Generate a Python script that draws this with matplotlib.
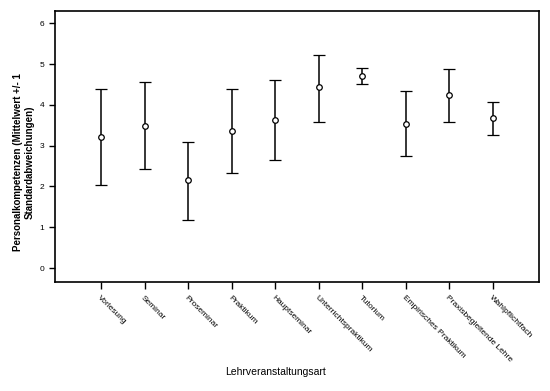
import numpy as np
import matplotlib
matplotlib.use("Agg")
import matplotlib.pyplot as plt

plt.rcParams["font.family"] = ["Liberation Sans", "DejaVu Sans"]

categories = ["Vorlesung", "Seminar", "Proseminar", "Praktikum", "Hauptseminar",
              "Unterrichtspraktikum", "Tutorium", "Empirisches Praktikum",
              "Praxisbegleitende Lehre", "Wahlpflichtfach"]
means = [3.22, 3.48, 2.15, 3.36, 3.62, 4.43, 4.71, 3.53, 4.24, 3.67]
upper = [4.40, 4.55, 3.10, 4.40, 4.60, 5.23, 4.91, 4.33, 4.89, 4.06]
lower = [2.03, 2.44, 1.19, 2.32, 2.66, 3.59, 4.50, 2.74, 3.59, 3.27]
y_ticks = [0, 1, 2, 3, 4, 5, 6]


def main():
    fig = plt.figure(figsize=(5.5, 3.91), dpi=100)
    ax = fig.add_axes([55 / 550, 1 - 282 / 391, 484 / 550, 271 / 391])

    x = np.arange(len(categories))
    m = np.array(means)
    yerr = [m - np.array(lower), np.array(upper) - m]
    ax.errorbar(x, m, yerr=yerr, fmt="o", color="black", mfc="white", mec="black",
                ms=4, mew=0.9, elinewidth=1.1, capsize=4, capthick=1.1)

    ax.set_xlim(-1.06, len(categories) - 1 + 1.06)
    ax.set_ylim(-0.34, 6.30)
    ax.set_yticks(y_ticks)
    ax.set_xticks(x)
    ax.set_xticklabels(categories, rotation=-45, ha="left", va="top",
                       rotation_mode="anchor", fontsize=6)
    ax.tick_params(axis="y", labelsize=6, length=4, width=1)
    ax.tick_params(axis="x", length=5, width=1, pad=4)
    for s in ax.spines.values():
        s.set_linewidth(1.2)

    # y label sits a bit below the axes centre, as in the original
    fig.text(24 / 550, 1 - 162 / 391,
             "Personalkompetenzen (Mittelwert +/- 1\nStandardabweichungen)",
             rotation=90, ha="center", va="center", multialignment="center",
             fontsize=7, fontweight="bold")
    fig.text(0.5, 1 - 372 / 391, "Lehrveranstaltungsart", ha="center", va="center", fontsize=7.5)

    fig.savefig("out.png", dpi=100)


if __name__ == "__main__":
    main()
